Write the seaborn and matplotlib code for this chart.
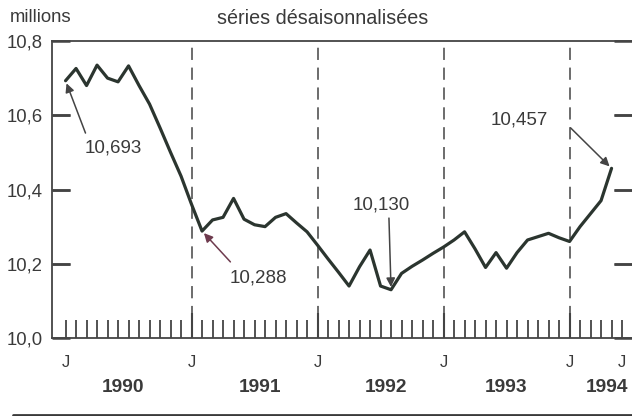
import matplotlib
matplotlib.use("Agg")
import matplotlib.pyplot as plt
from matplotlib.lines import Line2D
import seaborn as sns
import pandas as pd

# ---- data (monthly, Jan 1990 = 0) ----
month_index = list(range(53))
values = [10.693, 10.726, 10.680, 10.735, 10.700, 10.690, 10.733, 10.680,
          10.630, 10.566, 10.500, 10.436, 10.360, 10.288, 10.318, 10.325,
          10.376, 10.320, 10.305, 10.300, 10.325, 10.335, 10.310, 10.286,
          10.250, 10.213, 10.177, 10.140, 10.192, 10.237, 10.140, 10.130,
          10.174, 10.193, 10.210, 10.228, 10.245, 10.264, 10.286, 10.240,
          10.190, 10.230, 10.188, 10.230, 10.264, 10.273, 10.282, 10.270,
          10.260, 10.300, 10.335, 10.370, 10.457]
year_labels = ["1990", "1991", "1992", "1993", "1994"]
year_pos = [5.5, 18.5, 30.5, 42.0, 51.6]
j_pos = [0, 12, 24, 36, 48, 53]
jan_pos = [12, 24, 36, 48]
y_ticks = [10.0, 10.2, 10.4, 10.6, 10.8]
y_ticklabels = ["10,0", "10,2", "10,4", "10,6", "10,8"]
ann_labels = ["10,693", "10,288", "10,130", "10,457"]
ann_points = [(0, 10.693), (13, 10.288), (31, 10.130), (52, 10.457)]
ann_text_pos = [(4.5, 10.512), (18.4, 10.162), (30.1, 10.358), (43.2, 10.587)]
ann_arrow_start = [(1.9, 10.552), (15.7, 10.205), (30.8, 10.323), (48.1, 10.566)]

df = pd.DataFrame({"m": month_index, "v": values})

sns.set_theme(style="white")
plt.rcParams["font.family"] = ["Liberation Sans", "DejaVu Sans"]

TXT = "#3a3a3a"
AX = "#444444"

fig = plt.figure(figsize=(6.32, 4.16), dpi=100)
fig.patch.set_facecolor("white")
ax = fig.add_axes([52 / 632, 78 / 416, (631.5 - 52) / 632, 297 / 416])
ax.set_facecolor("white")

sns.lineplot(data=df, x="m", y="v", ax=ax, color="#2b352f", linewidth=2.3)

ax.set_xlim(-1.29, 53.9)
ax.set_ylim(10.0, 10.8)
ax.set_xlabel("")
ax.set_ylabel("")

# dashed year separators
for m in jan_pos:
    ax.axvline(m, color=AX, linewidth=1.1, dashes=(8, 5), zorder=1)

# ticks
ax.set_xticks(jan_pos)
ax.set_xticklabels([])
ax.set_xticks([m for m in range(0, 54) if m not in jan_pos], minor=True)
ax.set_yticks(y_ticks)
ax.set_yticklabels(y_ticklabels)
ax.tick_params(axis="x", which="major", direction="in", length=18, width=1.5,
               color=AX, bottom=True, top=False)
ax.tick_params(axis="x", which="minor", direction="in", length=13, width=1.3,
               color=AX, bottom=True, top=False)
ax.tick_params(axis="y", which="major", direction="in", length=13, width=1.8,
               color=AX, left=True, right=True, labelleft=True,
               labelright=False, pad=6.5, labelsize=13.3, labelcolor=TXT)

# explicit inward tick strokes (left/right for y)
yt = ax.get_yaxis_transform()
xt = ax.get_xaxis_transform()
for v in y_ticks[1:-1]:
    ax.plot([0, 0.031], [v, v], transform=yt, color=AX, lw=1.8,
            clip_on=False, solid_capstyle="butt", zorder=3)
    ax.plot([0.969, 1.0], [v, v], transform=yt, color=AX, lw=1.8,
            clip_on=False, solid_capstyle="butt", zorder=3)

for s in ["left", "bottom", "top"]:
    ax.spines[s].set_color(AX)
    ax.spines[s].set_linewidth(1.3)
ax.spines["right"].set_color("none")

for m in j_pos:
    ax.text(m, -0.081, "J", transform=xt, ha="center", va="center",
            fontsize=12, color=TXT)
for lab, p in zip(year_labels, year_pos):
    ax.text(p, -0.165, lab, transform=xt, ha="center", va="center",
            fontsize=13.8, fontweight="bold", color=TXT)

# annotations
arrow_colors = [AX, "#6e3b4e", AX, AX]
for lab, pt, tp, st, col in zip(ann_labels, ann_points, ann_text_pos,
                                ann_arrow_start, arrow_colors):
    ax.text(tp[0], tp[1], lab, ha="center", va="center", fontsize=13.5,
            color=TXT)
    ax.annotate("", xy=pt, xytext=st,
                arrowprops=dict(arrowstyle="-|>", color=col, lw=1.1,
                                mutation_scale=13, shrinkA=0, shrinkB=2))

fig.text(10 / 632, 1 - 18 / 416, "millions", ha="left", va="center",
         fontsize=13.3, color=TXT)
fig.text(217 / 632, 1 - 18 / 416, "séries désaisonnalisées", ha="left",
         va="center", fontsize=14.2, color=TXT)

# printed separator at the bottom
fig.add_artist(Line2D([13 / 632, 1.0], [1.5 / 416, 1.5 / 416],
                      transform=fig.transFigure, color="#3a3a3a", linewidth=2))

fig.savefig("out.png", dpi=100, facecolor="white")
